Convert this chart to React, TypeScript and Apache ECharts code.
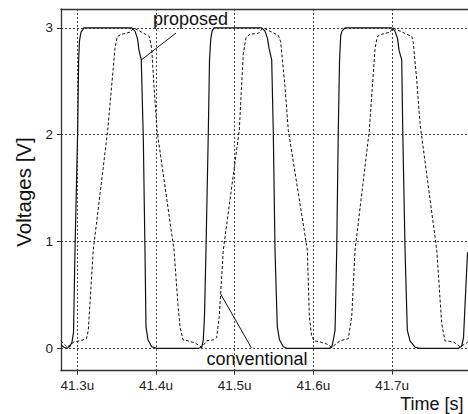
import React, { useEffect, useRef } from "react";
import * as echarts from "echarts";

// time in microseconds, voltage in volts
const proposedTime = [
  41.2793, 41.2831, 41.2869, 41.2907, 41.2933, 41.2952, 41.2971, 41.3005, 41.3017, 41.3028,
  41.3047, 41.3085, 41.3691, 41.3733, 41.3765, 41.3784, 41.3813, 41.3839, 41.386, 41.3873,
  41.3898, 41.3945, 41.4009, 41.454, 41.4581, 41.4601, 41.4616, 41.4635, 41.4665, 41.468,
  41.4695, 41.4712, 41.4737, 41.5343, 41.5385, 41.5417, 41.5436, 41.547, 41.549, 41.5512,
  41.5541, 41.5569, 41.5618, 41.5661, 41.6198, 41.6233, 41.6253, 41.6275, 41.6296, 41.6316,
  41.6332, 41.6347, 41.6363, 41.6402, 41.6995, 41.7037, 41.7069, 41.7088, 41.7122, 41.7135,
  41.7164, 41.7193, 41.7227, 41.7291, 41.7355, 41.7841, 41.7884, 41.7907, 41.7926, 41.7958,
];
const proposedVolt = [
  0.03, 0.01, 0.0, 0.02, 0.06, 0.15, 0.92, 2.04, 2.7, 2.88,
  2.96, 3.0, 3.0, 2.97, 2.9, 2.79, 2.7, 1.95, 0.92, 0.2,
  0.08, 0.015, 0.0, 0.0, 0.01, 0.08, 0.3, 0.92, 2.04, 2.7,
  2.89, 2.97, 3.0, 3.0, 2.97, 2.9, 2.81, 2.7, 2.04, 0.92,
  0.2, 0.08, 0.015, 0.0, 0.0, 0.01, 0.08, 0.17, 0.92, 2.04,
  2.7, 2.93, 2.97, 3.0, 3.0, 2.97, 2.9, 2.79, 2.7, 2.04,
  0.92, 0.17, 0.07, 0.01, 0.0, 0.0, 0.02, 0.1, 0.4, 0.9,
];

const conventionalTime = [
  41.2793, 41.2831, 41.2869, 41.2907, 41.2958, 41.3034, 41.3117, 41.314, 41.3203, 41.3386,
  41.3454, 41.3479, 41.3508, 41.3564, 41.367, 41.372, 41.3915, 41.3945, 41.3975, 41.4013,
  41.4229, 41.428, 41.4305, 41.4343, 41.4407, 41.4496, 41.4581, 41.4644, 41.4728, 41.4771,
  41.4804, 41.4855, 41.5058, 41.5109, 41.5144, 41.5194, 41.53, 41.5363, 41.5554, 41.5584,
  41.5639, 41.5681, 41.5923, 41.5948, 41.5976, 41.6008, 41.6084, 41.6169, 41.6233, 41.6338,
  41.6443, 41.6487, 41.6529, 41.671, 41.6783, 41.6812, 41.6868, 41.6973, 41.7008, 41.7249,
  41.7269, 41.7313, 41.7355, 41.7567, 41.763, 41.7672, 41.7778, 41.7863, 41.7948, 41.7977,
];
const conventionalVolt = [
  0.07, 0.04, 0.01, 0.03, 0.06, 0.07, 0.09, 0.17, 0.92, 2.04,
  2.6, 2.81, 2.92, 2.94, 2.96, 3.0, 2.92, 2.81, 2.45, 2.04,
  0.92, 0.4, 0.2, 0.08, 0.07, 0.05, 0.01, 0.07, 0.08, 0.1,
  0.3, 0.92, 2.04, 2.76, 2.91, 2.94, 2.95, 3.0, 2.93, 2.87,
  2.45, 2.04, 0.92, 0.3, 0.12, 0.07, 0.06, 0.04, 0.01, 0.07,
  0.09, 0.3, 0.92, 2.04, 2.81, 2.92, 2.94, 2.96, 3.0, 2.92,
  2.86, 2.51, 2.1, 0.92, 0.23, 0.07, 0.06, 0.015, 0.05, 0.07,
];

const xMin = 41.2793;
const xMax = 41.7964;
const yMin = -0.2097;
const yMax = 3.177;

// annotation pointer lines (data coordinates)
const proposedPointer = [[41.3813, 2.7], [41.4254, 2.952]];
const conventionalPointer = [[41.4822, 0.508], [41.5213, 0.003]];

const FONT = "'Liberation Sans', Arial, Helvetica, sans-serif";

export default function App() {
  const ref = useRef<HTMLDivElement>(null);

  useEffect(() => {
    if (!ref.current) return;
    const chart = echarts.init(ref.current, undefined, { renderer: "svg" });

    const proposed = proposedTime.map((t, i) => [t, proposedVolt[i]]);
    const conventional = conventionalTime.map((t, i) => [t, conventionalVolt[i]]);

    const isNice = (v: number, step: number) => {
      const r = Math.round(v / step) * step;
      return Math.abs(r - v) < 1e-6;
    };

    const axisColor = "#333";
    const gridStyle = { color: "#444", width: 1, type: [2, 2] as number[] };

    chart.setOption({
      animation: false,
      backgroundColor: "#ffffff",
      grid: { left: 61, right: 0, top: 9, bottom: 43.3, containLabel: false },
      xAxis: [
        {
          type: "value",
          min: xMin,
          max: xMax,
          minInterval: 0.1,
          maxInterval: 0.1,
          axisLine: { show: true, onZero: false, lineStyle: { color: axisColor, width: 1.3 } },
          axisTick: { show: true, inside: false, length: 4, lineStyle: { color: axisColor, width: 1 } },
          axisLabel: {
            show: true,
            margin: 8,
            color: "#222",
            fontFamily: FONT,
            fontSize: 13.5,
            showMinLabel: false,
            showMaxLabel: false,
            formatter: (v: number) => (isNice(v, 0.1) ? `${(Math.round(v * 10) / 10).toFixed(1)}u` : ""),
          },
          splitLine: { show: true, lineStyle: gridStyle },
        },
        {
          type: "value",
          position: "top",
          min: xMin,
          max: xMax,
          axisLine: { show: true, onZero: false, lineStyle: { color: axisColor, width: 1.3 } },
          axisTick: { show: false },
          axisLabel: { show: false },
          splitLine: { show: false },
        },
      ],
      yAxis: {
        type: "value",
        min: yMin,
        max: yMax,
        minInterval: 1,
        maxInterval: 1,
        axisLine: { show: true, onZero: false, lineStyle: { color: axisColor, width: 1.3 } },
        axisTick: { show: true, inside: false, length: 4, lineStyle: { color: axisColor, width: 1 } },
        axisLabel: {
          show: true,
          margin: 8,
          color: "#222",
          fontFamily: FONT,
          fontSize: 13.5,
          showMinLabel: false,
          showMaxLabel: false,
          formatter: (v: number) => (isNice(v, 1) ? `${Math.round(v)}` : ""),
        },
        splitLine: { show: true, lineStyle: gridStyle },
      },
      graphic: [
        {
          type: "text",
          x: 153,
          y: 18.7,
          style: { text: "proposed", fill: "#111", font: `18px ${FONT}`, textAlign: "left", textVerticalAlign: "middle" },
        },
        {
          type: "text",
          x: 206.5,
          y: 358.7,
          style: { text: "conventional", fill: "#111", font: `18px ${FONT}`, textAlign: "left", textVerticalAlign: "middle" },
        },
        {
          type: "text",
          x: 463.5,
          y: 404.4,
          style: { text: "Time [s]", fill: "#111", font: `18px ${FONT}`, textAlign: "right", textVerticalAlign: "middle" },
        },
        {
          type: "text",
          x: 23,
          y: 192,
          rotation: Math.PI / 2,
          style: { text: "Voltages [V]", fill: "#111", font: `20.5px ${FONT}`, textAlign: "center", textVerticalAlign: "middle" },
        },
      ],
      series: [
        {
          name: "conventional",
          type: "line",
          data: conventional,
          showSymbol: false,
          symbol: "none",
          clip: true,
          lineStyle: { color: "#111", width: 1, type: [3, 2] },
          z: 3,
        },
        {
          name: "proposed",
          type: "line",
          data: proposed,
          showSymbol: false,
          symbol: "none",
          clip: true,
          lineStyle: { color: "#111", width: 1.2, type: "solid" },
          z: 4,
          markLine: {
            silent: true,
            symbol: ["none", "none"],
            label: { show: false },
            lineStyle: { color: "#111", width: 1, type: "solid" },
            emphasis: { disabled: true },
            data: [
              [{ coord: proposedPointer[0] }, { coord: proposedPointer[1] }],
              [{ coord: conventionalPointer[0] }, { coord: conventionalPointer[1] }],
            ],
          },
        },
      ],
    });

    return () => chart.dispose();
  }, []);

  return (
    <div
      ref={ref}
      style={{ position: "fixed", left: 0, top: 0, width: 468, height: 414, background: "#fff" }}
    />
  );
}
